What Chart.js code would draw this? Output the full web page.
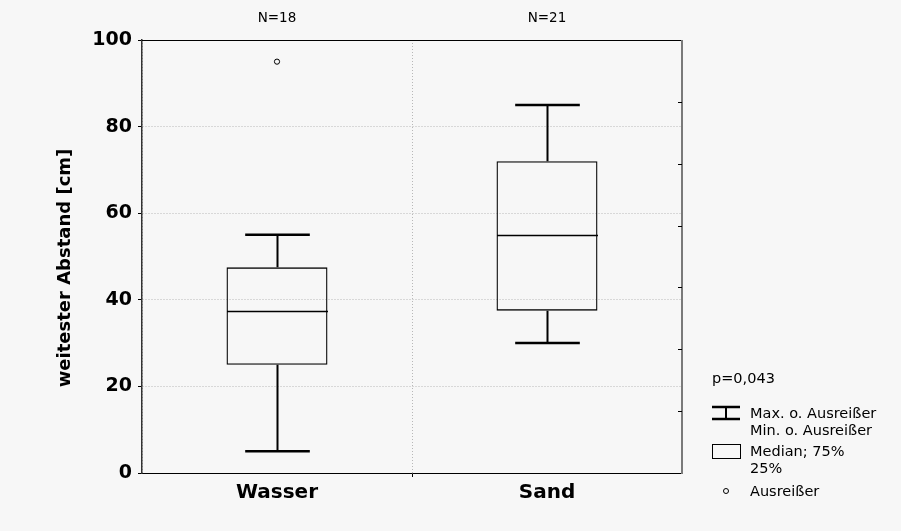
<!DOCTYPE html>
<html>
<head>
<meta charset="utf-8">
<script src="https://cdn.jsdelivr.net/npm/chart.js@4.4.1/dist/chart.umd.min.js"></script>
<style>
  html, body { margin: 0; padding: 0; background: #f7f7f7; }
  #wrap { width: 901px; height: 531px; }
</style>
</head>
<body>
<div id="wrap"><canvas id="c" width="901" height="531"></canvas></div>
<script>
// Box-plot summary per group
const categories = ['Wasser', 'Sand'];
const counts = ['N=18', 'N=21'];
const minima = [5, 30];
const lowerQuartiles = [25, 37.5];
const medians = [37.5, 55];
const upperQuartiles = [47.5, 72];
const maxima = [55, 85];
const outliers = [95, null];
const yTickValues = [0, 20, 40, 60, 80, 100];
const pValueText = 'p=0,043';
const legendTexts = [['Max. o. Ausreißer', 'Min. o. Ausreißer'], ['Median; 75%', '25%'], ['Ausreißer']];

const BG = '#f7f7f7';
const BOLD = '"DejaVu Sans", "Liberation Sans", Arial, sans-serif';

// Page background
const backgroundPlugin = {
  id: 'bg',
  beforeDraw(chart) {
    const { ctx } = chart;
    ctx.save();
    ctx.fillStyle = BG;
    ctx.fillRect(0, 0, chart.width, chart.height);
    ctx.restore();
  }
};

// Whiskers, caps and median lines drawn over the quartile bars
const whiskerPlugin = {
  id: 'whiskers',
  afterDatasetsDraw(chart) {
    const { ctx, scales: { x, y } } = chart;
    const bars = chart.getDatasetMeta(0).data;
    ctx.save();
    ctx.strokeStyle = '#000';
    categories.forEach((c, i) => {
      const cx = Math.round(x.getPixelForValue(i)) + 0.5;
      const bw = bars[i].width;
      const half = bw / 2;
      const cap = bw * 0.32;
      // vertical whiskers
      ctx.lineWidth = 2;
      ctx.beginPath();
      ctx.moveTo(cx, y.getPixelForValue(upperQuartiles[i]));
      ctx.lineTo(cx, y.getPixelForValue(maxima[i]));
      ctx.moveTo(cx, y.getPixelForValue(lowerQuartiles[i]));
      ctx.lineTo(cx, y.getPixelForValue(minima[i]));
      ctx.stroke();
      // caps
      ctx.lineWidth = 2.5;
      ctx.beginPath();
      ctx.moveTo(cx - cap, y.getPixelForValue(maxima[i]));
      ctx.lineTo(cx + cap, y.getPixelForValue(maxima[i]));
      ctx.moveTo(cx - cap, y.getPixelForValue(minima[i]));
      ctx.lineTo(cx + cap, y.getPixelForValue(minima[i]));
      ctx.stroke();
      // median
      ctx.lineWidth = 1.3;
      ctx.beginPath();
      const my = Math.round(y.getPixelForValue(medians[i])) + 0.5;
      ctx.moveTo(cx - half, my);
      ctx.lineTo(cx + half, my);
      ctx.stroke();
    });
    ctx.restore();
  }
};

// Frame, right-side minor ticks, group counts, axis title and legend
const decorPlugin = {
  id: 'decor',
  afterDraw(chart) {
    const { ctx, chartArea: a, scales: { x, y } } = chart;
    ctx.save();
    // top border
    ctx.strokeStyle = '#000';
    ctx.lineWidth = 1;
    ctx.beginPath();
    ctx.moveTo(a.left, Math.round(a.top) + 0.5);
    ctx.lineTo(a.right, Math.round(a.top) + 0.5);
    ctx.stroke();
    // right border
    ctx.strokeStyle = '#7a7a7a';
    ctx.lineWidth = 2;
    ctx.beginPath();
    ctx.moveTo(a.right, a.top);
    ctx.lineTo(a.right, a.bottom + 1);
    ctx.stroke();
    // right inner ticks
    ctx.strokeStyle = '#000';
    ctx.lineWidth = 1;
    ctx.beginPath();
    for (let k = 1; k < 7; k++) {
      const ty = Math.round(y.getPixelForValue(k * 100 / 7)) + 0.5;
      ctx.moveTo(a.right - 4, ty);
      ctx.lineTo(a.right, ty);
    }
    ctx.stroke();

    // counts above each group
    ctx.fillStyle = '#000';
    ctx.font = '13.5px "DejaVu Sans", Arial, sans-serif';
    ctx.textAlign = 'center';
    ctx.textBaseline = 'middle';
    counts.forEach((t, i) => ctx.fillText(t, x.getPixelForValue(i), 18));

    // y axis title
    ctx.save();
    ctx.translate(65, 268);
    ctx.rotate(-Math.PI / 2);
    ctx.font = 'bold 18px ' + BOLD;
    ctx.textAlign = 'center';
    ctx.textBaseline = 'middle';
    ctx.fillText('weitester Abstand [cm]', 0, 0);
    ctx.restore();

    // legend
    const lx = 712, tx = 750;
    ctx.font = '14.5px "DejaVu Sans", Arial, sans-serif';
    ctx.textAlign = 'left';
    ctx.textBaseline = 'middle';
    ctx.fillText(pValueText, lx, 379);
    // whisker symbol
    ctx.lineWidth = 2.5;
    ctx.beginPath();
    ctx.moveTo(lx, 407); ctx.lineTo(lx + 28, 407);
    ctx.moveTo(lx, 419); ctx.lineTo(lx + 28, 419);
    ctx.stroke();
    ctx.lineWidth = 2;
    ctx.beginPath();
    ctx.moveTo(lx + 14, 407); ctx.lineTo(lx + 14, 419);
    ctx.stroke();
    ctx.fillText(legendTexts[0][0], tx, 414);
    ctx.fillText(legendTexts[0][1], tx, 431);
    // box symbol
    ctx.lineWidth = 1;
    ctx.strokeRect(lx + 0.5, 444.5, 28, 14);
    ctx.fillText(legendTexts[1][0], tx, 452);
    ctx.fillText(legendTexts[1][1], tx, 469);
    // outlier symbol
    ctx.beginPath();
    ctx.arc(lx + 14, 491, 2.5, 0, Math.PI * 2);
    ctx.stroke();
    ctx.fillText(legendTexts[2][0], tx, 492);
    ctx.restore();
  }
};

new Chart(document.getElementById('c'), {
  type: 'bar',
  data: {
    labels: categories,
    datasets: [
      {
        type: 'bar',
        data: categories.map((c, i) => [lowerQuartiles[i], upperQuartiles[i]]),
        backgroundColor: 'rgba(0,0,0,0)',
        borderColor: '#000',
        borderWidth: 1.3,
        borderSkipped: false,
        categoryPercentage: 1,
        barPercentage: 0.374,
        order: 2
      },
      {
        type: 'line',
        data: outliers,
        showLine: false,
        pointRadius: 2.6,
        pointBorderWidth: 1,
        pointBorderColor: '#000',
        pointBackgroundColor: BG,
        order: 1
      }
    ]
  },
  options: {
    responsive: false,
    animation: false,
    devicePixelRatio: 1,
    layout: { padding: { top: 40, right: 219, left: 0, bottom: 0 } },
    plugins: { legend: { display: false }, tooltip: { enabled: false } },
    scales: {
      x: {
        offset: true,
        afterFit(s) { s.height = 58; },
        grid: {
          color: '#b8b8b8',
          tickColor: (c) => c.index === 1 ? '#000' : 'rgba(0,0,0,0)',
          tickLength: 4,
          lineWidth: 1
        },
        border: { color: '#000', width: 1, dash: [1, 2] },
        ticks: { color: '#000', padding: 4, font: { family: BOLD, size: 20, weight: 'bold' } }
      },
      y: {
        min: 0,
        max: 100,
        afterFit(s) { s.width = 142; },
        afterBuildTicks(s) { s.ticks = yTickValues.map(v => ({ value: v })); },
        grid: {
          color: (c) => (c.tick && (c.tick.value === 0 || c.tick.value === 100)) ? 'rgba(0,0,0,0)' : '#b8b8b8',
          tickColor: '#000',
          tickLength: 4,
          lineWidth: 1
        },
        border: { color: '#333', width: 1.5, dash: [1, 2] },
        ticks: { color: '#000', padding: 6, font: { family: BOLD, size: 19, weight: 'bold' } }
      }
    }
  },
  plugins: [backgroundPlugin, whiskerPlugin, decorPlugin]
});
</script>
</body>
</html>
